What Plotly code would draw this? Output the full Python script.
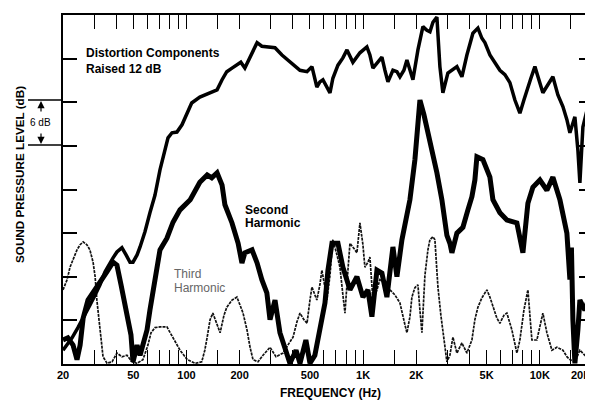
import plotly.graph_objects as go

# ---------------- data ----------------
# Distortion components raised 12 dB (frequency in Hz, level in dB above floor)
dist_freq = [20, 21.1, 22.5, 24.3, 26.6, 28.4, 30.4, 32.4, 34.6, 36.9, 38.4, 40.4, 43.1, 45.5, 47.9,
             49.8, 52.5, 54.6, 58.2, 62.1, 66.3, 70.8, 75.5, 78.6, 82.8, 88.3, 94.3, 101, 107, 119,
             127, 136, 149, 159, 169, 181, 193, 203, 214, 229, 251, 267, 285, 317, 347, 375, 401,
             439, 481, 513, 547, 569, 592, 624, 649, 674, 720, 768, 810, 875, 959, 1050, 1092, 1136,
             1212, 1277, 1328, 1381, 1474, 1553, 1615, 1701, 1769, 1840, 1913, 2042, 2179, 2296,
             2388, 2483, 2615, 2719, 2827, 3017, 3180, 3394, 3622, 3866, 4181, 4462, 4700, 4888,
             5218, 5426, 5943, 6343, 6770, 7226, 7714, 8128, 8452, 8902, 9378, 10010, 10408, 11110,
             11858, 12658, 13508, 14232, 14800, 15796, 16426, 16860, 17532, 18708, 19968]
dist_db = [1.9, 2.6, 3.6, 5.0, 6.7, 8.1, 9.5, 10.9, 12.7, 14.0, 14.6, 15.4, 16.0, 15.0, 14.0,
           14.0, 15.0, 16.1, 18.2, 20.8, 23.2, 26.7, 29.7, 31.1, 31.8, 31.9, 32.9, 34.7, 35.9, 36.7,
           37.0, 37.3, 37.7, 39.1, 40.2, 40.7, 41.1, 41.5, 40.7, 42.2, 44.2, 43.7, 43.6, 43.5, 42.5, 41.8, 41.1,
           40.4, 40.2, 40.9, 38.1, 38.8, 39.1, 38.0, 37.3, 39.3, 41.1, 42.1, 43.2, 41.5, 42.8, 43.6, 42.5, 40.7,
           41.5, 42.2, 40.4, 38.8, 40.4, 40.2, 39.5, 40.4, 41.8, 40.2, 39.1, 43.2, 46.4, 45.9,
           45.7, 47.0, 47.7, 40.9, 37.3, 40.0, 40.4, 40.9, 39.5, 42.5, 45.5, 46.2, 44.8, 44.2,
           42.5, 41.8, 40.4, 39.8, 38.7, 36.3, 34.5, 36.3, 37.7, 39.3, 40.9, 38.8, 37.3, 38.4,
           39.5, 37.0, 35.4, 33.6, 31.8, 34.0, 29.4, 24.9, 32.6, 35.4, 36.3]

# Second harmonic
h2_freq = [20, 21.3, 22.8, 24.0, 25.0, 26.0, 27.7, 30.4, 32.4, 35.5, 38.4, 40.4, 42.6, 44.9, 46.7,
           48.5, 49.8, 52.5, 54.6, 56.7, 59.8, 62.1, 64.6, 68.1, 70.8, 77.5, 83.9, 91.9, 105, 119,
           131, 139, 149, 159, 165, 181, 196, 206, 214, 235, 251, 267, 285, 297, 317, 338, 361,
           385, 417, 439, 474, 500, 533, 555, 584, 608, 632, 666, 720, 768, 842, 922, 997, 1064,
           1121, 1197, 1277, 1363, 1474, 1553, 1658, 1769, 1840, 1963, 2096, 2208, 2296, 2451,
           2615, 2790, 2979, 3097, 3180, 3394, 3670, 3917, 4127, 4290, 4404, 4762, 5218, 5426,
           5943, 6510, 7417, 8022, 8562, 9136, 10010, 10966, 11858, 12990, 14232, 14800, 15100,
           15388, 15796, 16426, 16860, 17990, 19202, 19968]
h2_db = [3.3, 3.6, 2.6, 0.6, 2.6, 6.3, 8.8, 10.2, 11.1, 12.7, 14.0, 13.6, 10.9, 8.1, 6.1,
         4.0, 0.3, 2.6, 1.2, 2.6, 4.7, 7.4, 9.9, 12.9, 15.7, 17.3, 19.5, 21.2, 22.6, 25.0,
         26.0, 25.6, 26.3, 24.6, 21.9, 19.4, 16.6, 13.9, 15.3, 15.7, 13.9, 11.6, 9.8, 6.1, 8.8, 4.3, 1.9,
         0.1, 1.9, 0.1, 3.3, 0.1, 1.2, 3.3, 6.1, 8.4, 12.9, 16.6, 16.6, 13.3, 10.2, 12.0, 9.2, 10.2,
         6.5, 12.9, 12.5, 9.2, 16.1, 12.0, 17.1, 20.8, 22.6, 28.1, 36.3, 34.3, 32.6, 29.4,
         26.3, 22.6, 17.7, 16.6, 15.3, 18.0, 18.8, 21.2, 23.0, 25.3, 28.5, 28.1, 25.7, 22.6,
         20.8, 19.8, 19.4, 15.3, 22.1, 24.3, 25.3, 23.9, 25.7, 22.6, 18.0, 11.6, 16.0,
         6.1, 0.1, 4.7, 8.8, 7.4, 9.5, 8.1]

# Third harmonic
h3_freq = [20, 21.1, 21.9, 23.1, 24.0, 25.0, 26.0, 27.3, 28.4, 29.6, 30.4, 31.1, 31.6, 32.4, 33.7,
           35.5, 37.9, 40.4, 43.1, 46.0, 49.2, 52.5, 56.7, 60.5, 63.0, 66.3, 70.8, 77.5, 83.9, 91.9,
           101, 112, 122, 127, 131, 136, 141, 149, 155, 163, 169, 181, 193, 201, 209, 220, 229,
           238, 254, 271, 297, 321, 352, 375, 401, 422, 439, 462, 481, 500, 513, 533, 547, 569,
           584, 608, 624, 649, 674, 711, 739, 768, 789, 820, 842, 899, 922, 959, 997, 1023, 1064,
           1092, 1136, 1197, 1244, 1328, 1418, 1513, 1615, 1724, 1769, 1840, 1888, 1963, 2042,
           2096, 2151, 2237, 2326, 2388, 2483, 2548, 2650, 2754, 2827, 2979, 3097, 3222, 3394,
           3622, 3866, 4127, 4290, 4462, 4700, 5017, 5218, 5426, 5716, 5943, 6262, 6510, 6770,
           6948, 7417, 7714, 8128, 8562, 8788, 9020, 9626, 10408, 10966, 11706, 12494, 13508,
           14232, 14800, 15796, 16860, 17990, 19202]
h3_db = [10.2, 11.6, 13.3, 14.7, 15.7, 16.4, 16.8, 16.4, 15.7, 14.0, 12.0, 8.8, 7.4, 5.1, 1.0,
         0.1, 0.3, 1.5, 1.0, 1.2, 0.3, 0.1, 0.6, 2.6, 4.3, 5.0, 5.1, 5.1, 3.7, 1.9,
         0.6, 0.1, 0.3, 1.9, 3.7, 6.1, 7.0, 5.4, 4.3, 6.7, 7.8, 8.8, 9.2, 8.1, 7.0, 4.7, 2.3,
         0.6, 0.3, 1.2, 2.3, 1.0, 1.5, 2.6, 3.7, 5.8, 7.0, 6.1, 5.6, 8.8, 10.6, 9.5, 8.8, 10.9,
         12.9, 10.5, 8.8, 12.2, 17.1, 15.0, 13.3, 9.5, 7.0, 12.9, 16.6, 15.7, 15.3, 19.4, 16.4, 13.3, 14.0,
         14.7, 8.8, 10.2, 11.6, 11.1, 10.2, 9.5, 8.4, 5.4, 4.3, 6.5, 9.2, 10.5, 10.9,
         7.4, 4.3, 12.2, 15.7, 17.1, 17.5, 17.1, 10.6, 6.7, 4.7, 0.3, 1.2, 3.7, 1.5,
         2.9, 1.5, 3.3, 6.1, 7.8, 9.1, 10.2, 9.2, 7.8, 6.3, 5.6, 6.7, 7.0, 5.4,
         4.7, 1.5, 3.3, 7.4, 10.2, 6.7, 3.3, 3.3, 7.0, 4.3, 1.9, 2.3, 1.9,
         1.0, 0.6, 0.3, 1.9, 1.2, 1.9]

x_tick_vals = [20, 50, 100, 200, 500, 1000, 2000, 5000, 10000, 20000]
x_tick_text = ["20", "50", "100", "200", "500", "1K", "2K", "5K", "10K", ""]
last_tick_label = "20K"
x_minor_vals = [30, 40, 60, 70, 80, 90, 150, 300, 400, 600, 700, 800, 900, 1500,
                3000, 4000, 6000, 7000, 8000, 9000, 15000]
y_tick_vals = [0, 6, 12, 18, 24, 30, 36, 42, 48]

# ---------------- figure ----------------
BOLD = "Liberation Sans"
fig = go.Figure()

fig.add_trace(go.Scatter(x=h3_freq, y=h3_db, mode="lines",
                         line=dict(color="#111111", width=1.7, dash="3px,1px"),
                         hoverinfo="skip", showlegend=False))
fig.add_trace(go.Scatter(x=h2_freq, y=h2_db, mode="lines",
                         line=dict(color="black", width=5),
                         hoverinfo="skip", showlegend=False))
fig.add_trace(go.Scatter(x=dist_freq, y=dist_db, mode="lines",
                         line=dict(color="black", width=3.5),
                         hoverinfo="skip", showlegend=False))

fig.update_xaxes(type="log", range=[1.30102, 4.30104],
                 tickvals=x_tick_vals, ticktext=x_tick_text,
                 ticks="inside", ticklen=14, tickwidth=1.3, tickcolor="black",
                 minor=dict(tickvals=x_minor_vals, ticks="inside", ticklen=14,
                            tickwidth=1.3, tickcolor="black", showgrid=False),
                 showline=True, linewidth=2, linecolor="black", mirror="ticks",
                 showgrid=False, zeroline=False, automargin=False,
                 tickfont=dict(family=BOLD, size=11, color="black", weight="bold"))
fig.update_yaxes(range=[0, 48], tickvals=y_tick_vals, showticklabels=False,
                 ticks="inside", ticklen=14, tickwidth=1.5, tickcolor="black",
                 showline=True, linewidth=2, linecolor="black", mirror="ticks",
                 showgrid=False, zeroline=False, automargin=False)

# The page body has an 8 px margin, so the figure is 8 px smaller than the window
OFF = 8
W, H = 593 - OFF, 401 - OFF
L, R, T, B = 63 - OFF, 0, 15 - OFF, 401 - 364
pw, ph = W - L - R, H - T - B


def px_x(p):
    # window pixel -> paper coordinate
    return (p - OFF - L) / pw


def px_y(p):
    return (H - B - (p - OFF)) / ph


ann = []
ann.append(dict(text=last_tick_label, xref="paper", yref="paper",
                x=1.0, y=px_y(375), showarrow=False,
                xanchor="right", yanchor="middle",
                font=dict(family=BOLD, size=11, color="black", weight="bold")))
ann.append(dict(text="SOUND PRESSURE LEVEL (dB)", xref="paper", yref="paper",
                x=px_x(19), y=px_y(175), textangle=-90, showarrow=False,
                xanchor="center", yanchor="middle",
                font=dict(family=BOLD, size=11.7, color="black", weight="bold")))
ann.append(dict(text="FREQUENCY (Hz)", xref="paper", yref="paper",
                x=px_x(330), y=px_y(393), showarrow=False,
                xanchor="center", yanchor="middle",
                font=dict(family=BOLD, size=12, color="black", weight="bold")))
ann.append(dict(text="Distortion Components<br>Raised 12 dB", xref="paper", yref="paper",
                x=px_x(84), y=px_y(44), showarrow=False, align="left",
                xanchor="left", yanchor="top",
                font=dict(family=BOLD, size=12, color="black", weight="bold")))
ann.append(dict(text="Second", xref="paper", yref="paper",
                x=px_x(243), y=px_y(210), showarrow=False,
                xanchor="left", yanchor="middle",
                font=dict(family=BOLD, size=12, color="black", weight="bold")))
ann.append(dict(text="Harmonic", xref="paper", yref="paper",
                x=px_x(243), y=px_y(223), showarrow=False,
                xanchor="left", yanchor="middle",
                font=dict(family=BOLD, size=12, color="black", weight="bold")))
ann.append(dict(text="Third", xref="paper", yref="paper",
                x=px_x(172), y=px_y(274), showarrow=False,
                xanchor="left", yanchor="middle",
                font=dict(family=BOLD, size=12, color="#666666")))
ann.append(dict(text="Harmonic", xref="paper", yref="paper",
                x=px_x(172), y=px_y(288), showarrow=False,
                xanchor="left", yanchor="middle",
                font=dict(family=BOLD, size=12, color="#666666")))
ann.append(dict(text="6 dB", xref="paper", yref="paper",
                x=px_x(40), y=px_y(122), showarrow=False,
                xanchor="center", yanchor="middle",
                font=dict(family=BOLD, size=10, color="black")))
# arrows of the 6 dB bracket
ann.append(dict(text="", xref="paper", yref="paper", x=px_x(41), y=px_y(101),
                ax=0, ay=12, showarrow=True, arrowhead=2, arrowsize=1.2,
                arrowwidth=1.2, arrowcolor="black"))
ann.append(dict(text="", xref="paper", yref="paper", x=px_x(41), y=px_y(144),
                ax=0, ay=-12, showarrow=True, arrowhead=2, arrowsize=1.2,
                arrowwidth=1.2, arrowcolor="black"))

shapes = [
    dict(type="line", xref="paper", yref="paper", x0=px_x(28), x1=0,
         y0=px_y(100), y1=px_y(100), line=dict(color="black", width=1.3)),
    dict(type="line", xref="paper", yref="paper", x0=px_x(28), x1=0,
         y0=px_y(145), y1=px_y(145), line=dict(color="black", width=1.3)),
]

fig.update_layout(width=W, height=H, margin=dict(l=L, r=R, t=T, b=B, autoexpand=False),
                  paper_bgcolor="white", plot_bgcolor="white",
                  annotations=ann, shapes=shapes, showlegend=False)

fig.write_html("out.html")
